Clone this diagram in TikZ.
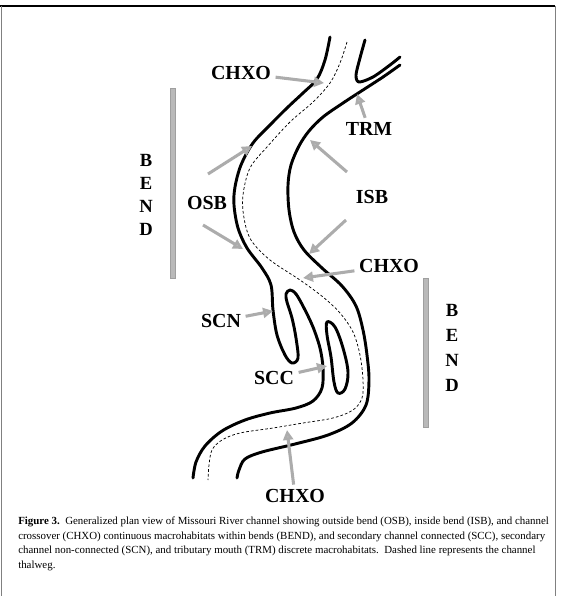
\documentclass[tikz,border=0pt]{standalone}
\usepackage{fontspec}
\setmainfont{Liberation Serif}
\usepackage{tikz}
\usetikzlibrary{arrows.meta}

\begin{document}
\begin{tikzpicture}[
    x=0.02646cm, y=-0.02646cm,
    bank/.style={line width=2.2pt, line cap=round, line join=round},
    thalweg/.style={line width=0.55pt, dash pattern=on 2pt off 1.6pt},
    hab/.style={draw=gray!65, line width=2.3pt, -{Triangle[length=7.5pt, width=7.5pt, fill=gray!55]}},
    habtext/.style={font=\fontsize{15}{15}\selectfont\bfseries},
    bendtext/.style={font=\fontsize{14}{17.5}\selectfont\bfseries, align=center},
    bendbar/.style={fill=gray!55, draw=gray!75, line width=0.5pt}
]
\useasboundingbox (0,0) rectangle (560,596);

%% ---- Page frame ----
\draw[line width=1.3pt] (0,6) -- (555,6);
\draw[line width=0.6pt, gray] (1,6) -- (1,596);
\draw[line width=0.6pt, gray] (555,6) -- (555,596);

%% ---- Left bank (with secondary channel pocket) ----
\draw[bank] plot[smooth, tension=0.55] coordinates {
    (330,37) (325,60) (317,79) (303,93) (288,107) (270,125) (253,143)
    (241,165) (235,187) (234,205) (238,228) (247,248) (262,268) (271,285)
    (273,310) (277,335) (285,355) (292,363) (298,358) (296,338) (292,318)
    (287,302) (286,294) (290,290) (296,294) (304,308) (313,327) (320,348)
    (323,368) (322,388) (313,401) (296,408) (270,413) (245,420) (222,431)
    (205,446) (196,462) (193,478)};

%% ---- Tributary point ----
\draw[bank] plot[smooth, tension=0.5] coordinates {
    (365,40) (360,58) (356,75) (359,82) (373,77) (390,65) (400,57)};

%% ---- Right bank ----
\draw[bank] plot[smooth, tension=0.55] coordinates {
    (400,65) (383,77) (363,90) (343,103) (323,117) (309,131) (299,146)
    (291,165) (288,185) (289,210) (294,232) (304,250) (322,268) (342,286)
    (356,306) (363,330) (367,355) (369,380) (366,405) (352,423) (328,435)
    (295,444) (262,452) (245,459) (239,470) (237,478)};

%% ---- Island (connected secondary channel) ----
\draw[bank] plot[smooth cycle, tension=0.6] coordinates {
    (327,322) (335,327) (343,348) (348,372) (345,389) (338,393) (334,382)
    (331,357) (327,335)};

%% ---- Thalweg ----
\draw[thalweg] plot[smooth, tension=0.55] coordinates {
    (347,42) (340,63) (330,83) (313,102) (290,122) (267,147) (250,168)
    (243,195) (244,218) (251,240) (270,260) (300,280) (323,297) (340,313)
    (353,332) (360,355) (363,380) (362,398) (353,410) (333,418) (303,423)
    (273,428) (240,433) (222,440) (212,450) (209,465) (208,480)};

%% ---- Bend bars ----
\draw[bendbar] (170,88) rectangle (175,278);
\draw[bendbar] (423,278) rectangle (428,427);
\node[bendtext] (bendL) at (146,195) {B\\E\\N\\D};
\node[bendtext, font=\fontsize{14}{19}\selectfont\bfseries] (bendR) at (452,348) {B\\E\\N\\D};

%% ---- Macrohabitat labels ----
\node[habtext] (chxoTop) at (241,73) {CHXO};
\node[habtext] (osb) at (207,203) {OSB};
\node[habtext] (isb) at (372,197) {ISB};
\node[habtext] (trm) at (369,129) {TRM};
\node[habtext] (chxoMid) at (389,266) {CHXO};
\node[habtext] (scn) at (221,321) {SCN};
\node[habtext] (scc) at (274,378) {SCC};
\node[habtext] (chxoBot) at (295,496) {CHXO};

%% ---- Arrow ends ----
\coordinate (tChxoTop) at (324,83);
\coordinate (sOsbUp) at (208,174);
\coordinate (tOsbUp) at (252,146);
\coordinate (sOsbLo) at (203,225);
\coordinate (tOsbLo) at (243,249);
\coordinate (sIsbUp) at (347,172);
\coordinate (tIsbUp) at (310,140);
\coordinate (sIsbLo) at (346,220);
\coordinate (tIsbLo) at (309,254);
\coordinate (tTrm) at (357,94);
\coordinate (tChxoMid) at (303,278);
\coordinate (tScn) at (273,311);
\coordinate (tScc) at (327,366);
\coordinate (tChxoBot) at (287,430);

%% ---- Arrows ----
\draw[hab] (chxoTop) -- (tChxoTop);
\draw[hab] (sOsbUp) -- (tOsbUp);
\draw[hab] (sOsbLo) -- (tOsbLo);
\draw[hab] (sIsbUp) -- (tIsbUp);
\draw[hab] (sIsbLo) -- (tIsbLo);
\draw[hab] (trm) -- (tTrm);
\draw[hab] (chxoMid) -- (tChxoMid);
\draw[hab] (scn) -- (tScn);
\draw[hab] (scc) -- (tScc);
\draw[hab] (chxoBot) -- (tChxoBot);

%% ---- Caption ----
\node[anchor=north west, inner sep=0pt, align=left,
      font=\fontsize{8.2}{10.9}\selectfont] (caption) at (18,517)
  {\textbf{Figure 3.}\ \ Generalized plan view of Missouri River channel showing outside bend (OSB), inside bend (ISB), and channel\\
   crossover (CHXO) continuous macrohabitats within bends (BEND), and secondary channel connected (SCC), secondary\\
   channel non-connected (SCN), and tributary mouth (TRM) discrete macrohabitats.\ \ Dashed line represents the channel\\
   thalweg.};

\end{tikzpicture}
\end{document}
